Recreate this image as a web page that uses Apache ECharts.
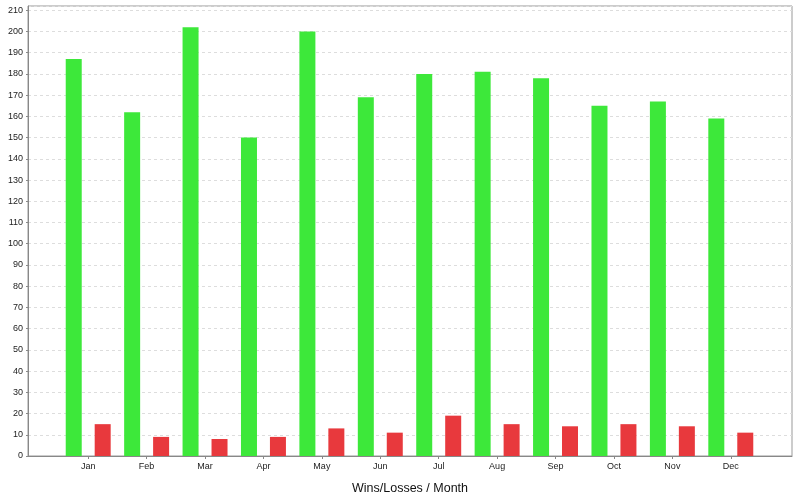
<!DOCTYPE html>
<html>
<head>
<meta charset="utf-8">
<script src="https://cdn.jsdelivr.net/npm/echarts@6/dist/echarts.min.js"></script>
<style>html,body{margin:0;padding:0;background:#fff}#c{width:800px;height:500px}</style>
</head>
<body>
<div id="c"></div>
<script>
var months = ['Jan','Feb','Mar','Apr','May','Jun','Jul','Aug','Sep','Oct','Nov','Dec'];
var wins = [187,162,202,150,200,169,180,181,178,165,167,159];
var losses = [15,9,8,9,13,11,19,15,14,15,14,11];
var yMin = 0, yMax = 212, yStep = 10;

var chart = echarts.init(document.getElementById('c'), null, {renderer:'canvas'});
var font = 'Liberation Sans';
chart.setOption({
  animation: false,
  backgroundColor: '#fff',
  grid: [
    {left: 28, right: 8, top: 6, bottom: 44, show: true, borderColor: '#999', borderWidth: 1, backgroundColor: '#fff'},
    {left: 59, right: 40, top: 6, bottom: 44}
  ],
  xAxis: [
    {gridIndex: 0, type: 'value', min: 0, max: 1,
     axisLabel: {show: false}, splitLine: {show: false}, axisTick: {show: false},
     axisLine: {show: true, lineStyle: {color: '#888'}},
     name: 'Wins/Losses / Month', nameLocation: 'middle', nameGap: 26,
     nameTextStyle: {fontFamily: font, fontSize: 12.5, color: '#111'}},
    {gridIndex: 1, type: 'category', data: months,
     axisLine: {show: false},
     axisTick: {show: true, alignWithLabel: true, length: 3, lineStyle: {color: '#888'}},
     axisLabel: {fontFamily: font, fontSize: 9, color: '#222', margin: 6}}
  ],
  yAxis: [
    {gridIndex: 0, type: 'value', min: yMin, max: yMax, interval: yStep,
     axisLabel: {fontFamily: font, fontSize: 9, color: '#222', margin: 5, showMaxLabel: false},
     axisLine: {show: true, lineStyle: {color: '#888'}},
     axisTick: {show: true, length: 2, lineStyle: {color: '#888'}},
     splitLine: {show: true, lineStyle: {color: '#ddd', type: [3,3]}}},
    {gridIndex: 1, type: 'value', min: yMin, max: yMax, interval: yStep, show: false}
  ],
  series: [
    {type: 'bar', name: 'Wins', xAxisIndex: 1, yAxisIndex: 1, data: wins,
     barWidth: 16, barGap: '81%', itemStyle: {color: '#3de83a'}},
    {type: 'bar', name: 'Losses', xAxisIndex: 1, yAxisIndex: 1, data: losses,
     barWidth: 16, barGap: '81%', itemStyle: {color: '#e8393d'}}
  ]
});
</script>
</body>
</html>
